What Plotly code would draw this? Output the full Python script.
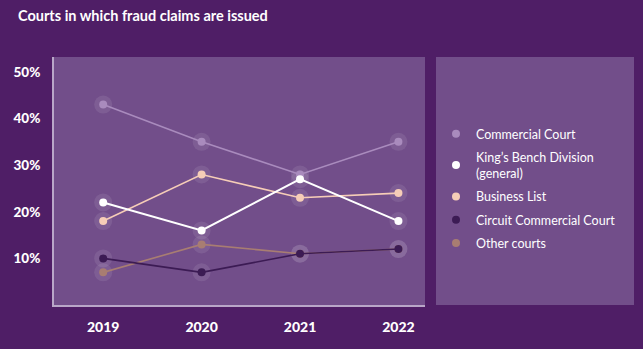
import plotly.graph_objects as go

years = [2019, 2020, 2021, 2022]
series_names = ["Commercial Court", "King’s Bench Division<br>(general)", "Business List",
                "Circuit Commercial Court", "Other courts"]
commercial = [43, 35, 28, 35]
kings_bench = [22, 16, 27, 18]
business = [18, 28, 23, 24]
circuit = [10, 7, 11, 12]
other = [7, 13, 11, 12]
values = [commercial, kings_bench, business, circuit, other]
colors = ["#a98bbd", "#ffffff", "#f6cdb7", "#3c1b54", "#a87d72"]
y_ticks = [10, 20, 30, 40, 50]
y_labels = ["10%", "20%", "30%", "40%", "50%"]

FONT = "Lato"
BG = "#4f1e66"
PLOT_BG = "#724e8a"

fig = go.Figure()

# halos
for vals in values:
    fig.add_trace(go.Scatter(
        x=years, y=vals, mode="markers", showlegend=False, hoverinfo="skip",
        marker=dict(size=18, color="rgba(255,255,255,0.09)", line=dict(width=0)),
    ))

# draw order: other, circuit, business, commercial, king's bench
order = [4, 3, 2, 0, 1]
for i in order:
    fig.add_trace(go.Scatter(
        x=years, y=values[i], mode="lines+markers", showlegend=False,
        name=series_names[i],
        line=dict(color=colors[i], width=2 if i == 1 else 1.6),
        marker=dict(size=8, color=colors[i]),
    ))

# legend entries
for i, name in enumerate(series_names):
    fig.add_trace(go.Scatter(
        x=[None], y=[None], mode="markers", name=name, legendgroup=f"g{i}",
        marker=dict(size=8, color=colors[i]),
    ))

fig.add_shape(type="rect", xref="paper", yref="paper",
              x0=(436 - 54) / 371, x1=(634 - 54) / 371, y0=0, y1=1,
              fillcolor=PLOT_BG, line=dict(width=0), layer="below")

fig.update_layout(
    width=643, height=349,
    margin=dict(l=54, r=218, t=57, b=44),
    paper_bgcolor=BG, plot_bgcolor=PLOT_BG,
    font=dict(family=FONT, color="white"),
    title=dict(text="<b>Courts in which fraud claims are issued</b>",
               x=18 / 643, xanchor="left", y=1 - 16 / 349, yanchor="middle",
               font=dict(size=14.5, color="white", family=FONT)),
    showlegend=True,
    legend=dict(x=(436 - 54) / 371, xanchor="left", y=1 - (119 - 57) / 248, yanchor="top",
                bgcolor="rgba(0,0,0,0)", font=dict(size=12.5, color="white", family=FONT),
                traceorder="grouped", tracegroupgap=4, itemwidth=30),
    xaxis=dict(range=[2018.5, 2022.27], tickvals=years, ticktext=[str(y) for y in years],
               showgrid=False, zeroline=False, showline=True, linecolor="#b9a7c8", linewidth=2,
               tickfont=dict(size=14, color="white", family=FONT + " Black"), ticks="",
               ticklabelstandoff=8),
    yaxis=dict(range=[0, 53.2], tickvals=y_ticks, ticktext=y_labels,
               showgrid=False, zeroline=False, showline=True, linecolor="#b9a7c8", linewidth=2,
               tickfont=dict(size=13.5, color="white", family=FONT + " Black"), ticks="",
               ticklabelstandoff=9),
)

fig.write_html("out.html")
